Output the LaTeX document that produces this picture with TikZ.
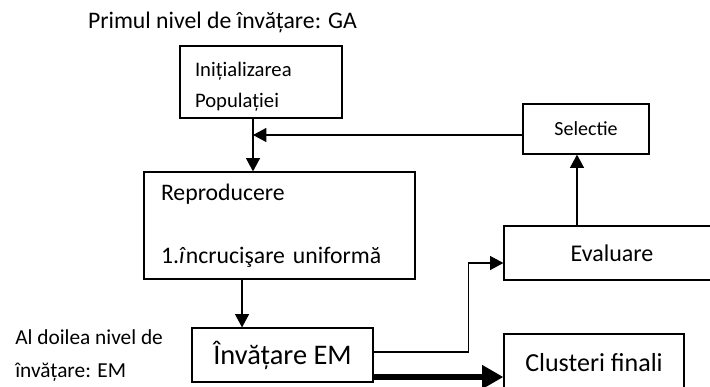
\documentclass[tikz,border=0pt]{standalone}
\usepackage{fontspec}
\setmainfont{Carlito}
\usetikzlibrary{positioning,arrows.meta,calc}

\tikzset{
  box/.style={draw, line width=0.9pt, inner sep=0pt},
  arr/.style={-{Triangle[length=10pt,width=10.5pt]}, line width=0.9pt},
  bigarr/.style={-{Triangle[length=16pt,width=17pt]}, line width=5pt}
}

\begin{document}
\begin{tikzpicture}[x=0.75pt, y=-0.75pt, font=\fontsize{17.8}{21.4}\selectfont]
        \clip (0,0) rectangle (710,386);
        % first level: GA
        \node (titlu) at (222.5,22) {Primul nivel de învățare: GA};
        \node[box, minimum width=121.5pt, minimum height=54pt, align=left, text width=99pt,
          font=\fontsize{15.5}{18.6}\selectfont] (init) at (261,82)
          {\rule{0pt}{18pt}Inițializarea\\[4.2pt]Populației};
        \node[box, minimum width=203.25pt, minimum height=80.25pt, align=left, text width=177.75pt] (repro) at (279.5,225.5)
          {Reproducere\\[25.8pt]1.\textit{î}ncrucişare uniformă};
        \node[box, minimum width=94.5pt, minimum height=37.5pt, font=\fontsize{15}{18}\selectfont] (sel) at (586,129) {Selectie};
        \node[box, minimum width=162pt, minimum height=40.5pt, font=\fontsize{18}{21.6}\selectfont] (eval) at (612,253) {Evaluare};
        % second level: EM
        \node[align=left, anchor=west, inner sep=0pt, font=\fontsize{16}{19.2}\selectfont] (nivel2) at (15,356)
          {Al doilea nivel de\\[5.5pt]învățare: EM};
        \node[box, minimum width=135.75pt, minimum height=40.5pt, font=\fontsize{21.3}{25}\selectfont] (em) at (282.5,355) {Învățare EM};
        \node[box, minimum width=135pt, minimum height=43.5pt, font=\fontsize{19.5}{23}\selectfont] (clu) at (594,363) {Clusteri finali};
        % connectors
        \coordinate (jn) at (253,135);
        \coordinate (up) at (577,0);
        \draw[arr] (init.south -| jn) -- (repro.north -| jn);
        \draw[arr] (sel.west |- jn) -- (jn);
        \draw[arr] ([xshift=-28.1pt]repro.south) -- ([xshift=-28.1pt]repro.south |- em.north);
        \draw[arr] (eval.north -| up) -- (sel.south -| up);
        \draw[arr] ([yshift=2.25pt]em.east) -- ++(95,0) |- ([yshift=-7.5pt]eval.west);
        \draw[bigarr] ([yshift=-16.5pt]em.east) -- ([yshift=-16.5pt]em.east -| clu.west);
      \end{tikzpicture}
\end{document}
